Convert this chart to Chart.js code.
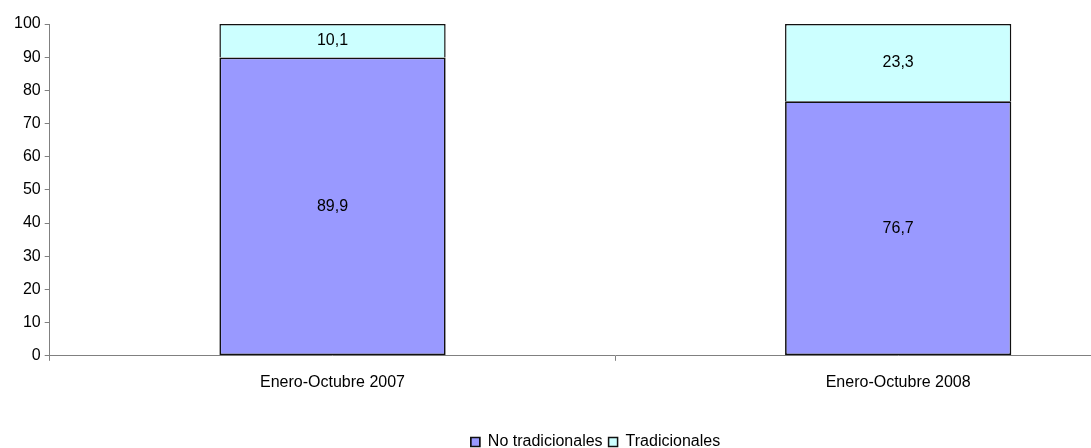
<!DOCTYPE html>
<html>
<head>
<meta charset="utf-8">
<script src="https://cdn.jsdelivr.net/npm/chart.js@4/dist/chart.umd.min.js"></script>
<style>
  html, body { margin: 0; padding: 0; background: #fff; overflow: hidden; }
  #wrap { width: 1224px; height: 448px; }
</style>
</head>
<body>
<div id="wrap"><canvas id="chart" width="1224" height="448"></canvas></div>
<script>
// data
const categories = ["Enero-Octubre 2007", "Enero-Octubre 2008"];
const noTradicionales = [89.9, 76.7];
const tradicionales = [10.1, 23.3];
const yTicks = [0, 10, 20, 30, 40, 50, 60, 70, 80, 90, 100];

const fontFamily = "'Liberation Sans', Arial, sans-serif";

// draws the value in the middle of each bar segment
const segmentLabels = {
  id: "segmentLabels",
  afterDatasetsDraw(chart) {
    const ctx = chart.ctx;
    ctx.save();
    ctx.font = "16px " + fontFamily;
    ctx.fillStyle = "#000";
    ctx.textAlign = "center";
    ctx.textBaseline = "middle";
    chart.data.datasets.forEach((ds, di) => {
      chart.getDatasetMeta(di).data.forEach((bar, i) => {
        const y = (bar.y + bar.base) / 2;
        ctx.fillText(ds.data[i].toFixed(1).replace(".", ","), bar.x, y);
      });
    });
    ctx.restore();
  }
};

new Chart(document.getElementById("chart").getContext("2d"), {
  type: "bar",
  data: {
    labels: categories,
    datasets: [
      {
        label: "No tradicionales",
        data: noTradicionales,
        backgroundColor: "#9999FF",
        borderColor: "#111",
        borderWidth: 1.7,
        borderSkipped: false,
        inflateAmount: 0
      },
      {
        label: "Tradicionales",
        data: tradicionales,
        backgroundColor: "#CCFFFF",
        borderColor: "#111",
        borderWidth: 1.5,
        borderSkipped: "bottom",
        inflateAmount: 0
      }
    ]
  },
  options: {
    responsive: false,
    animation: false,
    layout: { padding: { top: 24, right: 43, left: 10, bottom: -12 } },
    datasets: { bar: { categoryPercentage: 1, barPercentage: 0.4 } },
    plugins: {
      tooltip: { enabled: false },
      legend: {
        position: "bottom",
        labels: {
          boxWidth: 9,
          boxHeight: 9,
          padding: 6,
          color: "#000",
          font: { family: fontFamily, size: 16 }
        }
      }
    },
    scales: {
      x: {
        stacked: true,
        afterFit: axis => { axis.height += 24; },
        border: { color: "#808080", width: 1 },
        grid: { drawOnChartArea: false, tickLength: 5, color: "#808080" },
        ticks: { color: "#000", padding: 12, font: { family: fontFamily, size: 16 } }
      },
      y: {
        stacked: true,
        min: 0,
        max: 100,
        afterBuildTicks: axis => { axis.ticks = yTicks.map(v => ({ value: v })); },
        border: { color: "#808080", width: 1 },
        grid: { drawOnChartArea: false, tickLength: 5, color: "#808080" },
        ticks: { color: "#000", padding: 4, font: { family: fontFamily, size: 16 } }
      }
    }
  },
  plugins: [segmentLabels]
});
</script>
</body>
</html>
